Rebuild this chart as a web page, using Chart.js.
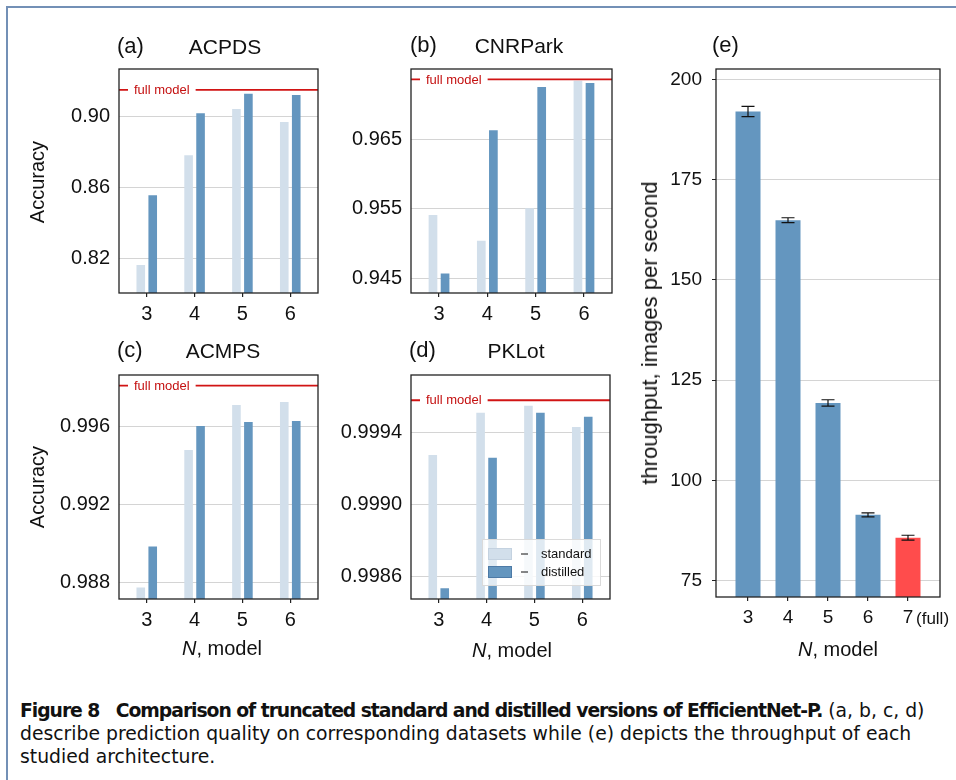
<!DOCTYPE html>
<html lang="en">
<head>
<meta charset="UTF-8">
<title>Truncated standard vs distilled EfficientNet-P</title>
<script src="https://cdn.jsdelivr.net/npm/chart.js"></script>
<style>
    body {
        margin: 0;
        width: 956px;
        height: 780px;
        position: relative;
        overflow: hidden;
        background: #fff;
        font-family: "Liberation Sans", Arial, sans-serif;
        color: #111;
    }
    .frame {
        position: absolute;
        left: 6px;
        top: 6px;
        width: 980px;
        height: 800px;
        border-top: 2px solid #7390b6;
        border-left: 2px solid #7390b6;
    }
    canvas { position: absolute; }
    .t {
        position: absolute;
        transform: translate(-50%, -50%);
        line-height: 1;
        white-space: nowrap;
    }
    .l {
        position: absolute;
        transform: translateY(-50%);
        line-height: 1;
        white-space: nowrap;
    }
    .rot { transform: translate(-50%, -50%) rotate(-90deg); }
    .caption {
        position: absolute;
        left: 20px;
        top: 699px;
        font-family: "DejaVu Sans", sans-serif;
        font-size: 18.8px;
        line-height: 23px;
        white-space: nowrap;
    }
    .caption b { letter-spacing: -1.05px; }
</style>
</head>
<body>
<div class="frame"></div>

<canvas id="chartA"></canvas>
<canvas id="chartB"></canvas>
<canvas id="chartC"></canvas>
<canvas id="chartD"></canvas>
<canvas id="chartE"></canvas>

<!-- panel titles -->
<div class="l" style="left:117px; top:46px; font-size:22px;">(a)</div>
<div class="t" style="left:225px; top:46px; font-size:21px;">ACPDS</div>
<div class="l" style="left:410px; top:45px; font-size:22px;">(b)</div>
<div class="t" style="left:519px; top:45px; font-size:21px;">CNRPark</div>
<div class="l" style="left:117px; top:350px; font-size:22px;">(c)</div>
<div class="t" style="left:223px; top:350px; font-size:21px;">ACMPS</div>
<div class="l" style="left:409px; top:350px; font-size:22px;">(d)</div>
<div class="t" style="left:516px; top:350px; font-size:21px;">PKLot</div>
<div class="l" style="left:712px; top:45px; font-size:22px;">(e)</div>

<!-- axis titles -->
<div class="t rot" style="left:37px; top:182px; font-size:20px;">Accuracy</div>
<div class="t rot" style="left:37px; top:487px; font-size:20px;">Accuracy</div>
<div class="t rot" style="left:650px; top:333px; font-size:22px;">throughput, images per second</div>
<div class="t" style="left:222px; top:648px; font-size:20px;"><i>N</i>, model</div>
<div class="t" style="left:512px; top:650px; font-size:20px;"><i>N</i>, model</div>
<div class="t" style="left:838px; top:649px; font-size:20px;"><i>N</i>, model</div>
<div class="l" style="left:916px; top:618px; font-size:17px;">(full)</div>

<div class="caption"><b>Figure 8&nbsp;&nbsp; Comparison of truncated standard and distilled versions of EfficientNet-P.</b> (a, b, c, d)<br>describe prediction quality on corresponding datasets while (e) depicts the throughput of each<br>studied architecture.</div>

<script>
    // Datos de las gráficas
    const models = [3, 4, 5, 6];

    const acpdsStandard  = [0.8162, 0.8780, 0.9041, 0.8968];
    const acpdsDistilled = [0.8555, 0.9017, 0.9126, 0.9120];
    const acpdsFull = 0.9148;
    const acpdsTicks = [0.82, 0.86, 0.90];

    const cnrStandard  = [0.9541, 0.9504, 0.9551, 0.9734];
    const cnrDistilled = [0.9457, 0.9663, 0.9725, 0.9731];
    const cnrFull = 0.9736;
    const cnrTicks = [0.945, 0.955, 0.965];

    const acmpsStandard  = [0.98772, 0.99480, 0.99712, 0.99727];
    const acmpsDistilled = [0.98983, 0.99604, 0.99624, 0.99629];
    const acmpsFull = 0.99811;
    const acmpsTicks = [0.988, 0.992, 0.996];

    const pklotStandard  = [0.999274, 0.999507, 0.999546, 0.999429];
    const pklotDistilled = [0.998534, 0.999258, 0.999507, 0.999485];
    const pklotFull = 0.999577;
    const pklotTicks = [0.9986, 0.9990, 0.9994];

    const throughputModels = [3, 4, 5, 6, 7];
    const throughput    = [192.0, 164.9, 119.3, 91.4, 85.7];
    const throughputErr = [1.3, 0.6, 0.8, 0.5, 0.6];
    const throughputTicks = [75, 100, 125, 150, 175, 200];

    const FONT = '"Liberation Sans", Arial, sans-serif';
    const LIGHT = 'rgb(210, 223, 235)';
    const BLUE = 'rgb(100, 150, 191)';
    const RED = 'rgb(255, 76, 76)';

    // marco negro alrededor del área del gráfico
    const boxFrame = {
        id: 'boxFrame',
        afterDraw(chart) {
            const { ctx, chartArea: a } = chart;
            ctx.save();
            ctx.strokeStyle = '#222';
            ctx.lineWidth = 1.3;
            ctx.strokeRect(a.left, a.top, a.right - a.left, a.bottom - a.top);
            ctx.restore();
        }
    };

    // línea roja "full model"
    const fullModelLine = {
        id: 'fullModelLine',
        afterDatasetsDraw(chart, args, opts) {
            if (opts.value == null) return;
            const { ctx, chartArea: a, scales: { y } } = chart;
            const py = y.getPixelForValue(opts.value);
            ctx.save();
            ctx.font = '13px ' + FONT;
            const tx = a.left + 15;
            const tw = ctx.measureText('full model').width;
            ctx.strokeStyle = '#d11414';
            ctx.lineWidth = 1.8;
            ctx.beginPath();
            ctx.moveTo(a.left, py); ctx.lineTo(tx - 6, py);
            ctx.moveTo(tx + tw + 6, py); ctx.lineTo(a.right, py);
            ctx.stroke();
            ctx.fillStyle = '#c41010';
            ctx.textBaseline = 'middle';
            ctx.fillText('full model', tx, py + 0.5);
            ctx.restore();
        }
    };

    // leyenda dentro del panel (d)
    const boxLegend = {
        id: 'boxLegend',
        afterDraw(chart, args, opts) {
            if (!opts.show) return;
            const { ctx, chartArea: a } = chart;
            const w = 118, h = 46;
            const x0 = a.right - 10 - w, y0 = a.bottom - 14 - h;
            ctx.save();
            ctx.fillStyle = 'rgba(255,255,255,0.8)';
            ctx.fillRect(x0, y0, w, h);
            ctx.strokeStyle = '#dadada';
            ctx.lineWidth = 1;
            ctx.strokeRect(x0 + 0.5, y0 + 0.5, w, h);
            ctx.font = '13px ' + FONT;
            ctx.textBaseline = 'middle';
            chart.data.datasets.forEach((ds, i) => {
                const cy = y0 + 15 + i * 18;
                ctx.fillStyle = ds.backgroundColor;
                ctx.fillRect(x0 + 6, cy - 6, 24, 12);
                ctx.strokeStyle = i === 0 ? '#c4d2e0' : '#4d7aa6';
                ctx.strokeRect(x0 + 6.5, cy - 5.5, 23, 11);
                ctx.strokeStyle = '#111';
                ctx.beginPath();
                ctx.moveTo(x0 + 39, cy); ctx.lineTo(x0 + 46, cy);
                ctx.stroke();
                ctx.fillStyle = '#111';
                ctx.fillText(ds.label, x0 + 59, cy);
            });
            ctx.restore();
        }
    };

    // barras de error del panel (e)
    const errorBars = {
        id: 'errorBars',
        afterDatasetsDraw(chart, args, opts) {
            if (!opts.errors) return;
            const { ctx, scales: { y } } = chart;
            const meta = chart.getDatasetMeta(0);
            const data = chart.data.datasets[0].data;
            ctx.save();
            ctx.strokeStyle = '#111';
            ctx.lineWidth = 1.2;
            meta.data.forEach((bar, i) => {
                const top = y.getPixelForValue(data[i].y + opts.errors[i]);
                const bot = y.getPixelForValue(data[i].y - opts.errors[i]);
                ctx.beginPath();
                ctx.moveTo(bar.x, top); ctx.lineTo(bar.x, bot);
                ctx.moveTo(bar.x - 6.5, top); ctx.lineTo(bar.x + 6.5, top);
                ctx.moveTo(bar.x - 6.5, bot); ctx.lineTo(bar.x + 6.5, bot);
                ctx.stroke();
            });
            ctx.restore();
        }
    };

    function makePanel(id, box, p) {
        const padL = 80, padT = 24, padR = 12, padB = 40;
        const canvas = document.getElementById(id);
        canvas.width = box.r - box.l + padL + padR;
        canvas.height = box.b - box.t + padT + padB;
        canvas.style.left = (box.l - padL) + 'px';
        canvas.style.top = (box.t - padT) + 'px';

        return new Chart(canvas, {
            type: 'bar',
            data: { datasets: p.datasets },
            options: {
                responsive: false,
                animation: false,
                layout: { autoPadding: false, padding: { left: 0, top: padT, right: padR, bottom: 0 } },
                plugins: {
                    legend: { display: false },
                    tooltip: { enabled: false },
                    fullModelLine: { value: p.full },
                    boxLegend: { show: !!p.legend },
                    errorBars: { errors: p.errors }
                },
                scales: {
                    x: {
                        type: 'linear',
                        min: p.xMin,
                        max: p.xMax,
                        offset: false,
                        afterBuildTicks: s => { s.ticks = p.xTicks.map(v => ({ value: v })); },
                        afterFit: s => { s.height = padB; },
                        grid: { drawOnChartArea: false, offset: false, tickLength: 4, tickColor: '#222', lineWidth: 1.2 },
                        border: { display: false },
                        ticks: {
                            padding: 5, color: '#111', autoSkip: false, maxRotation: 0,
                            font: { family: FONT, size: p.fontSize },
                            callback: v => String(v)
                        }
                    },
                    y: {
                        min: p.yMin,
                        max: p.yMax,
                        afterBuildTicks: s => { s.ticks = p.yTicks.map(v => ({ value: v })); },
                        afterFit: s => { s.width = padL; },
                        grid: { color: '#d4d4d4', lineWidth: 1, drawTicks: !!p.yTickMarks, tickLength: 4, tickColor: '#222' },
                        border: { display: false },
                        ticks: {
                            padding: p.yTickMarks ? 10 : 9, color: '#111',
                            font: { family: FONT, size: p.fontSize },
                            callback: v => v.toFixed(p.decimals)
                        }
                    }
                }
            },
            plugins: [boxFrame, fullModelLine, boxLegend, errorBars]
        });
    }

    function accuracySets(std, dist) {
        return [
            { label: 'standard', data: models.map((m, i) => ({ x: m, y: std[i] })),
              backgroundColor: LIGHT, categoryPercentage: 0.5, barPercentage: 0.72 },
            { label: 'distilled', data: models.map((m, i) => ({ x: m, y: dist[i] })),
              backgroundColor: BLUE, categoryPercentage: 0.5, barPercentage: 0.72 }
        ];
    }

    makePanel('chartA', { l: 119, t: 69, r: 318, b: 293 }, {
        datasets: accuracySets(acpdsStandard, acpdsDistilled), full: acpdsFull,
        xMin: 2.42, xMax: 6.58, xTicks: models,
        yMin: 0.8005, yMax: 0.9266, yTicks: acpdsTicks, decimals: 2, fontSize: 20
    });
    makePanel('chartB', { l: 411, t: 69, r: 612, b: 293 }, {
        datasets: accuracySets(cnrStandard, cnrDistilled), full: cnrFull,
        xMin: 2.42, xMax: 6.58, xTicks: models,
        yMin: 0.9429, yMax: 0.9751, yTicks: cnrTicks, decimals: 3, fontSize: 20
    });
    makePanel('chartC', { l: 119, t: 375, r: 318, b: 599 }, {
        datasets: accuracySets(acmpsStandard, acmpsDistilled), full: acmpsFull,
        xMin: 2.42, xMax: 6.58, xTicks: models,
        yMin: 0.98713, yMax: 0.99866, yTicks: acmpsTicks, decimals: 3, fontSize: 20
    });
    makePanel('chartD', { l: 411, t: 375, r: 610, b: 599 }, {
        datasets: accuracySets(pklotStandard, pklotDistilled), full: pklotFull, legend: true,
        xMin: 2.42, xMax: 6.58, xTicks: models,
        yMin: 0.998475, yMax: 0.999717, yTicks: pklotTicks, decimals: 4, fontSize: 20
    });
    makePanel('chartE', { l: 716, t: 69, r: 940, b: 597 }, {
        datasets: [{
            label: 'throughput',
            data: throughputModels.map((m, i) => ({ x: m, y: throughput[i] })),
            backgroundColor: throughputModels.map((m, i) => i === throughputModels.length - 1 ? RED : BLUE),
            categoryPercentage: 1, barPercentage: 0.625
        }],
        errors: throughputErr, yTickMarks: true,
        xMin: 2.2, xMax: 7.8, xTicks: throughputModels,
        yMin: 70.9, yMax: 202.6, yTicks: throughputTicks, decimals: 0, fontSize: 19
    });
</script>
</body>
</html>
